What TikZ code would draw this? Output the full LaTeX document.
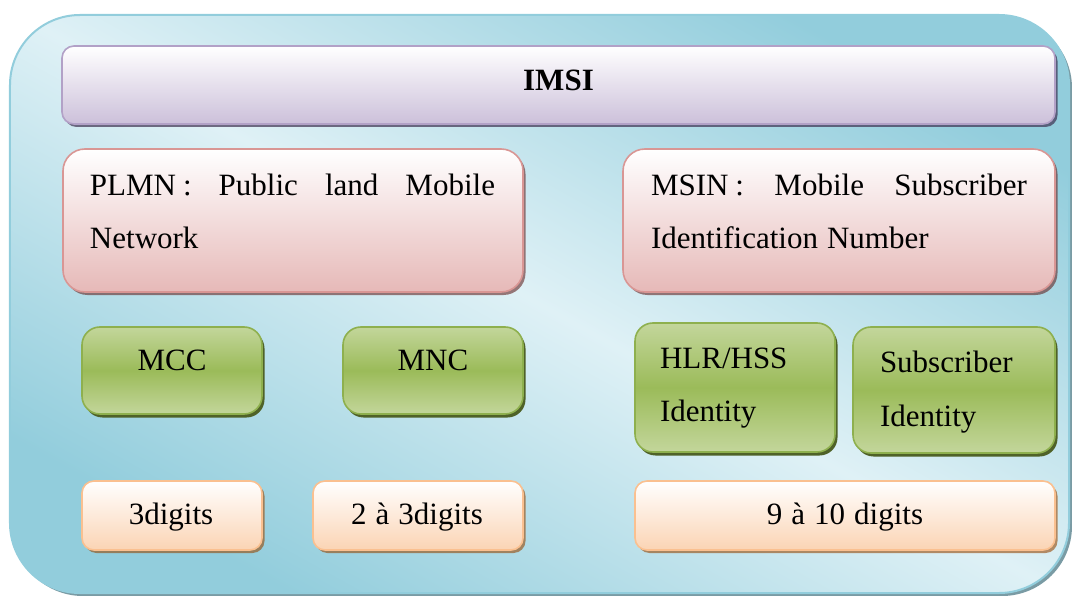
\documentclass[tikz,border=0pt]{standalone}
\usepackage{fontspec}
\setmainfont{Liberation Serif}
\usetikzlibrary{shadows}

\definecolor{bluedark}{HTML}{92CDDC}
\definecolor{bluelight}{HTML}{DFF1F6}
\definecolor{blueshadow}{HTML}{215968}
\definecolor{purpleedge}{HTML}{B2A1C7}
\definecolor{purplefill}{HTML}{CCC0DA}
\definecolor{purpleshadow}{HTML}{3F3151}
\definecolor{rededge}{HTML}{D99694}
\definecolor{redfill}{HTML}{E6B9B8}
\definecolor{redshadow}{HTML}{632523}
\definecolor{greenedge}{HTML}{8EB04E}
\definecolor{greenmid}{HTML}{9BBB59}
\definecolor{greenlight}{HTML}{C3D69B}
\definecolor{greenshadow}{HTML}{4F6228}
\definecolor{orangeedge}{HTML}{FAC090}
\definecolor{orangefill}{HTML}{FBD4B4}
\definecolor{orangeshadow}{HTML}{974806}

\begin{document}
\begin{tikzpicture}[x=1bp, y=-1bp,
  every node/.style={inner sep=0pt, outer sep=0pt},
  txt/.style={font=\fontsize{31bp}{53bp}\selectfont, text=black},
  frame/.style={draw=bluedark, line width=2bp, rounded corners=70bp,
    top color=bluedark, bottom color=bluedark, middle color=bluelight,
    shading angle=-29,
    drop shadow={shadow xshift=3bp, shadow yshift=-3bp, fill=blueshadow, opacity=.6}},
  titlebox/.style={draw=purpleedge, line width=1.6bp, rounded corners=12bp,
    top color=white, bottom color=purplefill,
    drop shadow={shadow xshift=2.5bp, shadow yshift=-3bp, fill=purpleshadow, opacity=.7}},
  partbox/.style={draw=rededge, line width=1.6bp, rounded corners=22bp,
    top color=white, bottom color=redfill,
    drop shadow={shadow xshift=2.5bp, shadow yshift=-3bp, fill=redshadow, opacity=.6}},
  fieldbox/.style={draw=greenedge, line width=1.6bp, rounded corners=18bp,
    top color=greenlight, bottom color=greenlight, middle color=greenmid,
    drop shadow={shadow xshift=2.5bp, shadow yshift=-3.5bp, fill=greenshadow, opacity=1}},
  sizebox/.style={draw=orangeedge, line width=1.6bp, rounded corners=12bp,
    top color=white, bottom color=orangefill,
    drop shadow={shadow xshift=2.5bp, shadow yshift=-3bp, fill=orangeshadow, opacity=.6}},
]
\useasboundingbox (0,0) rectangle (1072,596);

% outer panel
\node[frame, minimum width=1059bp, minimum height=578bp] (panel) at (539.5,304) {};

% IMSI header
\node[titlebox, minimum width=993bp, minimum height=78bp] (imsi) at (558.5,85) {};
\node[txt, font=\fontsize{31bp}{36bp}\selectfont\bfseries] (imsit) at (558.5,80) {IMSI};

% PLMN and MSIN parts (first lines spread to the full width)
\node[partbox, minimum width=460bp, minimum height=143bp] (plmn) at (293,220.5) {};
\node[txt, text width=405bp, align=left] (plmnt) at (292.5,211)
  {\hbox to 405bp{PLMN\kern7bp:\hfill Public\hfill land\hfill Mobile}\\Network};

\node[partbox, minimum width=432bp, minimum height=143bp] (msin) at (839,220.5) {};
\node[txt, text width=376bp, align=left] (msint) at (839,211)
  {\hbox to 376bp{MSIN\kern7bp:\hfill Mobile\hfill Subscriber}\\Identification\kern9bp Number};

% fields
\node[fieldbox, minimum width=180bp, minimum height=87bp] (mcc) at (172,370.5) {};
\node[txt] (mcct) at (172,360) {MCC};

\node[fieldbox, minimum width=180bp, minimum height=87bp] (mnc) at (433,370.5) {};
\node[txt] (mnct) at (433,360) {MNC};

\node[fieldbox, minimum width=200bp, minimum height=129bp] (hlr) at (735,387.5) {};
\node[txt, text width=150bp, align=left] (hlrt) at (735,388.5) {HLR/HSS\\Identity};

\node[fieldbox, minimum width=202bp, minimum height=126bp] (sub) at (954,390) {};
\node[txt, text width=150bp, align=left, font=\fontsize{31bp}{54bp}\selectfont] (subt) at (955,392)
  {Subscriber\\Identity};

% field lengths
\node[sizebox, minimum width=180bp, minimum height=69bp] (d3) at (172,515.5) {};
\node[txt] (d3t) at (171,517) {3digits};

\node[sizebox, minimum width=210bp, minimum height=69bp] (d23) at (418,515.5) {};
\node[txt] (d23t) at (417,517) {2\kern9bp à\kern9bp 3digits};

\node[sizebox, minimum width=420bp, minimum height=69bp] (d910) at (845,515.5) {};
\node[txt] (d910t) at (845,517) {9\kern9bp à\kern9bp 10\kern9bp digits};
\end{tikzpicture}
\end{document}
